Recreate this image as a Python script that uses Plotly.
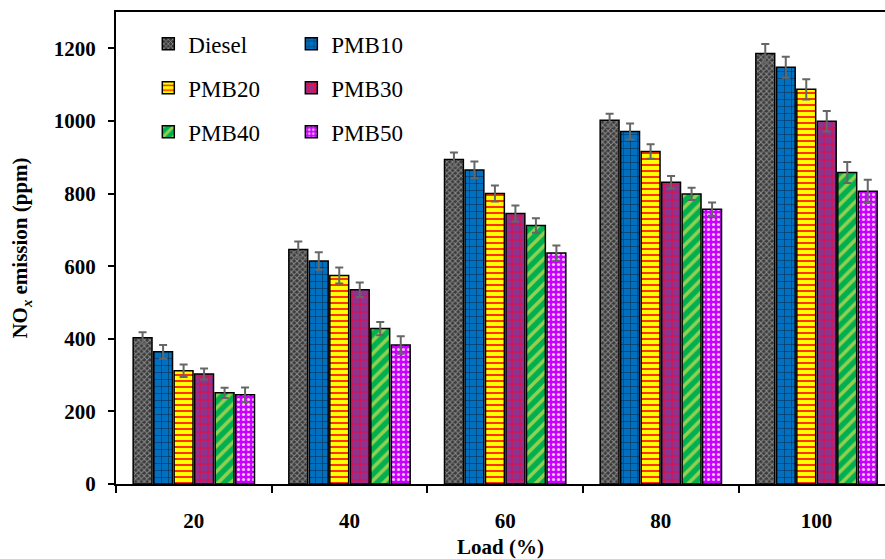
import plotly.graph_objects as go

loads = ["20", "40", "60", "80", "100"]
series_names = ["Diesel", "PMB10", "PMB20", "PMB30", "PMB40", "PMB50"]

diesel = [403, 646, 894, 1002, 1186]
pmb10 = [364, 614, 865, 971, 1148]
pmb20 = [312, 574, 800, 916, 1087]
pmb30 = [303, 535, 745, 831, 999]
pmb40 = [251, 428, 712, 799, 858]
pmb50 = [246, 383, 636, 757, 806]

diesel_err = [15, 22, 19, 18, 26]
pmb10_err = [19, 24, 23, 22, 29]
pmb20_err = [17, 22, 22, 20, 28]
pmb30_err = [15, 20, 22, 17, 28]
pmb40_err = [14, 18, 20, 17, 29]
pmb50_err = [20, 24, 21, 18, 32]

values = [diesel, pmb10, pmb20, pmb30, pmb40, pmb50]
errors = [diesel_err, pmb10_err, pmb20_err, pmb30_err, pmb40_err, pmb50_err]

styles = [
    dict(shape="x", bg="#3a3a3a", fg="#8a8a8a", size=4, solidity=0.45),
    dict(shape="+", bg="#0070C0", fg="#0a3560", size=7, solidity=0.18),
    dict(shape="-", bg="#FFFF00", fg="#FF1a00", size=6, solidity=0.3),
    dict(shape="+", bg="#8B3590", fg="#FF0030", size=8, solidity=0.2),
    dict(shape="/", bg="#00B050", fg="#92D050", size=9, solidity=0.4),
    dict(shape=".", bg="#CC00FF", fg="#F0C8FF", size=5, solidity=0.3),
]

FONT = "Liberation Serif"

fig = go.Figure()
for i, (name, vals, errs, st) in enumerate(zip(series_names, values, errors, styles)):
    fig.add_trace(go.Bar(
        x=loads, y=vals, name=name,
        legend="legend" if i % 2 == 0 else "legend2",
        legendgroup=name,
        marker=dict(
            color=st["bg"],
            line=dict(color="black", width=1.5),
            pattern=dict(shape=st["shape"], bgcolor=st["bg"], fgcolor=st["fg"],
                         size=st["size"], solidity=st["solidity"], fillmode="replace"),
        ),
        error_y=dict(type="data", array=errs, visible=True, color="#666666",
                     thickness=2, width=4),
    ))

legend_common = dict(
    font=dict(family=FONT, size=23, color="black"),
    bgcolor="rgba(0,0,0,0)", borderwidth=0,
    orientation="v", xanchor="left", yanchor="top",
    traceorder="grouped", tracegroupgap=11, itemwidth=30,
)

fig.update_layout(
    width=885, height=559,
    margin=dict(l=116, r=0, t=12, b=75),
    paper_bgcolor="white", plot_bgcolor="white",
    barmode="group", bargap=0.21, bargroupgap=0.08,
    font=dict(family=FONT, color="black"),
    legend=dict(x=0.042, y=0.978, **legend_common),
    legend2=dict(x=0.228, y=0.978, **legend_common),
    xaxis=dict(
        type="category", range=[-0.5, 4.44],
        showline=True, linecolor="black", linewidth=2, mirror=True,
        ticks="outside", tickson="boundaries", ticklen=7, tickwidth=1.5, tickcolor="black",
        tickfont=dict(family=FONT, size=21, weight="bold", color="black"),
        ticklabelstandoff=17,
        showgrid=False,
        title=dict(text="Load (%)", font=dict(family=FONT, size=21, weight="bold", color="black"),
                   standoff=10),
    ),
    yaxis=dict(
        range=[0, 1300], tickvals=[0, 200, 400, 600, 800, 1000, 1200],
        showline=True, linecolor="black", linewidth=2,
        ticks="outside", ticklen=6, tickwidth=1.5, tickcolor="black",
        tickfont=dict(family=FONT, size=21, weight="bold", color="black"),
        ticklabelstandoff=8,
        showgrid=False, zeroline=False,
        title=dict(text="NO<sub><i>x</i></sub> emission (ppm)",
                   font=dict(family=FONT, size=21, weight="bold", color="black"),
                   standoff=20),
    ),
)

fig.write_html("out.html", config={"displayModeBar": False},
               post_script="document.body.style.margin='0px';")
